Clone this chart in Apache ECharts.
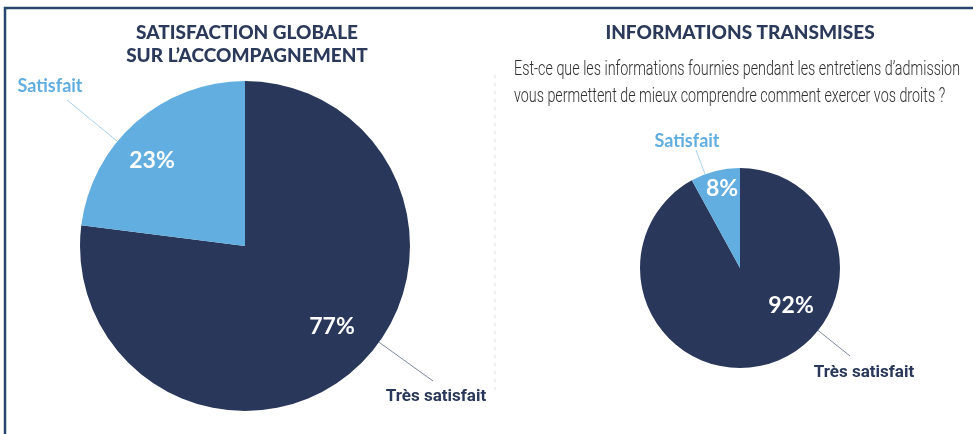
<!DOCTYPE html>
<html>
<head>
<meta charset="utf-8">
<script src="https://cdn.jsdelivr.net/npm/echarts@6/dist/echarts.min.js"></script>
<style>
html,body{margin:0;padding:0;background:#fff;}
#main{width:973px;height:434px;}
</style>
</head>
<body>
<div id="main"></div>
<script>
// données
var categories = ['Très satisfait', 'Satisfait'];
var globalValues = [77, 23];   // satisfaction globale sur l'accompagnement
var infoValues = [92, 8];      // informations transmises

var titleLeft = 'SATISFACTION GLOBALE\nSUR L\u2019ACCOMPAGNEMENT';
var titleRight = 'INFORMATIONS TRANSMISES';
var questionLines = [
	'Est-ce que les informations fournies pendant les entretiens d\u2019admission',
	'vous permettent de mieux comprendre comment exercer vos droits ?'
];

var NAVY = '#29385a';
var BLUE = '#62aee0';
var sliceColors = [NAVY, BLUE];

// géométrie des deux camemberts
var pieL = {cx: 245, cy: 246, r: 165};
var pieR = {cx: 740, cy: 268, r: 100};

// placement des étiquettes (texte + bout du trait)
var nameLayoutL = [{text: [436, 397], end: [433, 381]}, {text: [50, 86], end: [67, 100]}];
var nameLayoutR = [{text: [864, 373], end: [850, 356]}, {text: [687, 141], end: [696, 150]}];
var pctLayoutL = [[332, 327], [152, 161]];
var pctLayoutR = [[791, 306], [722, 189]];

function buildData(values){
	var out = [];
	for (var i = 0; i < values.length; i++) {
		out.push({
			name: categories[i],
			value: values[i],
			itemStyle: {color: sliceColors[i]},
			label: i == 0
				? {color: NAVY, fontFamily: 'Roboto, sans-serif', fontSize: 17, padding: [8, 0, 0, 0]}
				: {color: BLUE, fontFamily: 'Lato, sans-serif', fontSize: 18, padding: [0, 0, 8, 0]},
			labelLine: {lineStyle: {color: i == 0 ? '#7d879e' : '#a9d2ef', width: 1}}
		});
	}
	return out;
}

function nameLayout(pie, layout){
	return function(params){
		var L = layout[params.dataIndex];
		var dx = L.end[0] - pie.cx, dy = L.end[1] - pie.cy;
		var d = Math.sqrt(dx * dx + dy * dy);
		var start = [pie.cx + dx / d * pie.r, pie.cy + dy / d * pie.r];
		return {
			x: L.text[0], y: L.text[1], align: 'center', verticalAlign: 'middle',
			labelLinePoints: [start, L.end, L.end]
		};
	};
}

function pctLayout(layout){
	return function(params){
		var p = layout[params.dataIndex];
		return {x: p[0], y: p[1], align: 'center', verticalAlign: 'middle'};
	};
}

function mainPie(pie, values, layout){
	return {
		type: 'pie',
		center: [pie.cx, pie.cy],
		radius: [0, pie.r],
		startAngle: 90,
		clockwise: true,
		avoidLabelOverlap: false,
		silent: true,
		label: {show: true, position: 'outside', formatter: '{b}', fontWeight: 'bold'},
		labelLine: {show: true, length: 10, length2: 0},
		labelLayout: nameLayout(pie, layout),
		data: buildData(values)
	};
}

function pctPie(pie, values, layout){
	return {
		type: 'pie',
		center: [pie.cx, pie.cy],
		radius: [0, pie.r],
		startAngle: 90,
		clockwise: true,
		silent: true,
		itemStyle: {color: 'rgba(0,0,0,0)'},
		label: {
			show: true, position: 'inside', formatter: '{c}%',
			color: '#fff', fontFamily: 'Lato, sans-serif', fontWeight: 'bold', fontSize: 23
		},
		labelLine: {show: false},
		labelLayout: pctLayout(layout),
		data: categories.map(function(c, i){ return {name: c, value: values[i]}; })
	};
}

// largeur de la question (police condensée simulée)
var qFont = '300 21px Roboto';
var ctx = document.createElement('canvas').getContext('2d');
ctx.font = qFont;
var qScale = 446 / ctx.measureText(questionLines[0]).width;

var titleStyle = {color: '#2b3a5a', fontFamily: 'Lato, sans-serif', fontWeight: 900, fontSize: 19, lineHeight: 23};

var chart = echarts.init(document.getElementById('main'));
var option = {
	animation: false,
	title: [
		{text: titleLeft, left: 247, top: 21, padding: 0, textAlign: 'center', textStyle: titleStyle},
		{text: titleRight, left: 740, top: 21, padding: 0, textAlign: 'center', textStyle: titleStyle}
	],
	graphic: [
		{type: 'polyline', shape: {points: [[5, 434], [5, 8], [973, 8]]}, style: {stroke: '#27466c', lineWidth: 2.5, fill: null}},
		{type: 'line', shape: {x1: 495, y1: 75, x2: 495, y2: 390}, style: {stroke: '#e2e2e2', lineWidth: 1, lineDash: [4, 4]}},
		{type: 'text', x: 514, y: 70, scaleX: qScale, style: {text: questionLines[0], font: qFont, fill: '#2e2e2e', verticalAlign: 'middle'}},
		{type: 'text', x: 514, y: 97, scaleX: qScale, style: {text: questionLines[1], font: qFont, fill: '#2e2e2e', verticalAlign: 'middle'}}
	],
	series: [
		mainPie(pieL, globalValues, nameLayoutL),
		pctPie(pieL, globalValues, pctLayoutL),
		mainPie(pieR, infoValues, nameLayoutR),
		pctPie(pieR, infoValues, pctLayoutR)
	]
};

chart.setOption(option);
</script>
</body>
</html>
